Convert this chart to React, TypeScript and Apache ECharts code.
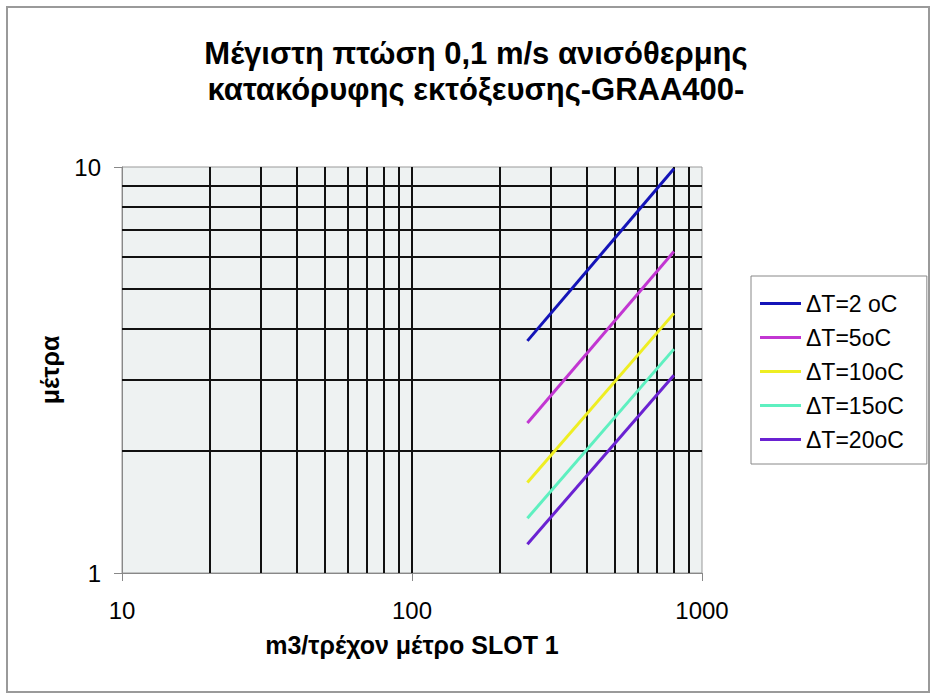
import React, { useEffect, useRef } from "react";
import * as echarts from "echarts";

const seriesNames = ["ΔT=2 oC", "ΔT=5oC", "ΔT=10oC", "ΔT=15oC", "ΔT=20oC"];
const seriesColors = ["#1414b8", "#c236d2", "#eeee22", "#5ef0c0", "#6a22d2"];
const xValues = [250, 800];
const dt2 = [3.73, 9.9];
const dt5 = [2.34, 6.19];
const dt10 = [1.67, 4.36];
const dt15 = [1.364, 3.56];
const dt20 = [1.177, 3.07];
const xGridValues = [20, 30, 40, 50, 60, 70, 80, 90, 100, 200, 300, 400, 500, 600, 700, 800, 900];
const yGridValues = [2, 3, 4, 5, 6, 7, 8, 9];

const FONT = "'Liberation Sans', Arial, sans-serif";

export default function App() {
  const ref = useRef<HTMLDivElement>(null);
  useEffect(() => {
    document.body.style.margin = "0";
    const chart = echarts.init(ref.current!, undefined, { renderer: "svg" });
    const allY = [dt2, dt5, dt10, dt15, dt20];
    const lineSeries = allY.map((ys, i) => ({
      name: seriesNames[i],
      type: "line",
      data: xValues.map((x, j) => [x, ys[j]]),
      showSymbol: false,
      symbol: "none",
      z: 3,
      lineStyle: { color: seriesColors[i], width: 3 },
      itemStyle: { color: seriesColors[i] },
    }));
    const gridSeries = {
      name: "grid",
      type: "line",
      data: [],
      silent: true,
      z: 1,
      markLine: {
        silent: true,
        symbol: "none",
        z: 1,
        animation: false,
        label: { show: false },
        lineStyle: { color: "#111", width: 2, type: "solid" },
        emphasis: { disabled: true },
        data: [
          ...xGridValues.map((v) => ({ xAxis: v })),
          ...yGridValues.map((v) => ({ yAxis: v })),
        ],
      },
    };
    const plainLabel = (v: number) => String(Math.round(v));
    chart.setOption({
      animation: false,
      backgroundColor: "#fff",
      title: {
        text: "Μέγιστη πτώση 0,1 m/s ανισόθερμης\nκατακόρυφης εκτόξευσης-GRAA400-",
        left: 471,
        textAlign: "center",
        top: 30,
        textStyle: {
          fontFamily: FONT,
          fontWeight: "bold",
          fontSize: 31,
          lineHeight: 36,
          color: "#000",
        },
      },
      graphic: [
        {
          type: "rect",
          shape: { x: 7, y: 7, width: 922, height: 685 },
          style: { fill: "none", stroke: "#9a9a9a", lineWidth: 2 },
          silent: true,
        },
      ],
      grid: {
        left: 122,
        top: 167,
        right: 235,
        bottom: 126,
        show: true,
        backgroundColor: "#eef2f2",
        borderColor: "#999",
        borderWidth: 1,
        containLabel: false,
      },
      legend: {
        data: seriesNames,
        orient: "vertical",
        left: 751,
        top: 276,
        icon: "rect",
        itemWidth: 41,
        itemHeight: 3,
        itemGap: 11,
        padding: [16, 23, 13, 9],
        borderColor: "#888",
        borderWidth: 1,
        textStyle: {
          fontFamily: FONT,
          fontSize: 23,
          lineHeight: 23,
          color: "#000",
        },
      },
      xAxis: {
        type: "log",
        logBase: 10,
        min: 10,
        max: 1000,
        name: "m3/τρέχον μέτρο SLOT 1",
        nameLocation: "middle",
        nameGap: 59,
        nameTextStyle: {
          fontFamily: FONT,
          fontWeight: "bold",
          fontSize: 25,
          color: "#000",
        },
        axisLine: { show: true, lineStyle: { color: "#888", width: 1 } },
        axisTick: { show: true, length: 8, lineStyle: { color: "#888" } },
        axisLabel: {
          margin: 25,
          fontFamily: FONT,
          fontSize: 24,
          color: "#000",
          formatter: plainLabel,
        },
        splitLine: { show: false },
        minorTick: { show: false },
        minorSplitLine: { show: false },
      },
      yAxis: {
        type: "log",
        logBase: 10,
        min: 1,
        max: 10,
        name: "μέτρα",
        nameLocation: "middle",
        nameGap: 60,
        nameRotate: 90,
        nameTextStyle: {
          fontFamily: FONT,
          fontWeight: "bold",
          fontSize: 25,
          color: "#000",
        },
        axisLine: { show: true, lineStyle: { color: "#888", width: 1 } },
        axisTick: { show: true, length: 8, lineStyle: { color: "#888" } },
        axisLabel: {
          margin: 21,
          fontFamily: FONT,
          fontSize: 24,
          color: "#000",
          formatter: plainLabel,
        },
        splitLine: { show: false },
        minorTick: { show: false },
        minorSplitLine: { show: false },
      },
      series: [gridSeries, ...lineSeries],
    });
    return () => chart.dispose();
  }, []);
  return <div ref={ref} style={{ width: 937, height: 699 }} />;
}
